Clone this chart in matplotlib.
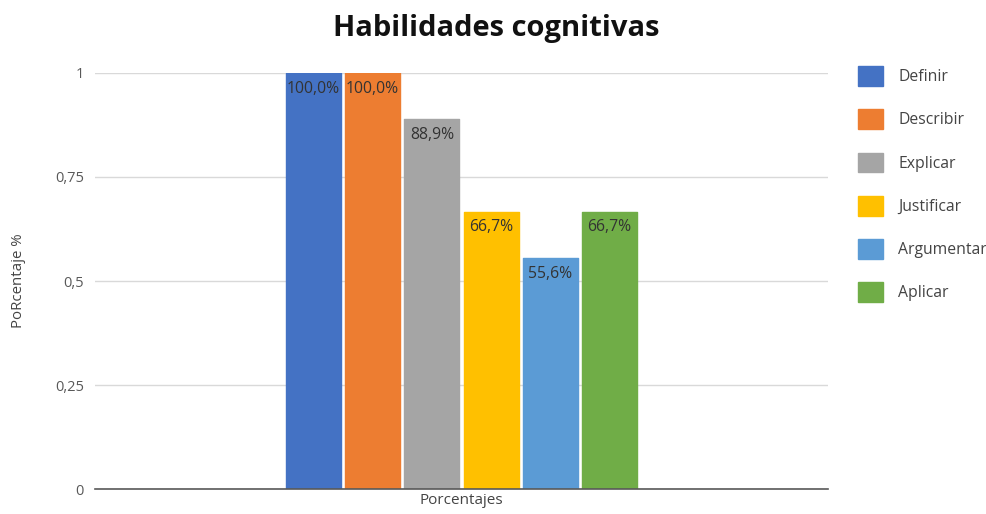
import matplotlib.pyplot as plt

categories = ["Definir", "Describir", "Explicar", "Justificar", "Argumentar", "Aplicar"]
values = [1.0, 1.0, 0.889, 0.667, 0.556, 0.667]
labels = ["100,0%", "100,0%", "88,9%", "66,7%", "55,6%", "66,7%"]
colors = ["#4472C4", "#ED7D31", "#A5A5A5", "#FFC000", "#5B9BD5", "#70AD47"]
yticks = [0, 0.25, 0.5, 0.75, 1]
ytick_labels = ["0", "0,25", "0,5", "0,75", "1"]

plt.rcParams["font.family"] = ["Open Sans", "DejaVu Sans"]

fig = plt.figure(figsize=(9.86, 5.14), dpi=100)
ax = fig.add_axes([0.0963, 0.0486, 0.7435, 0.8094])

x = list(range(len(categories)))
bars = ax.bar(x, values, width=0.93, color=colors, edgecolor=colors,
              linewidth=1, joinstyle="round", zorder=3)

for b, lab in zip(bars, labels):
    ax.text(b.get_x() + b.get_width() / 2, b.get_height() - 0.038, lab,
            ha="center", va="center", fontsize=11.3, color="#333333", zorder=4)

ax.set_xlim(-3.69, 8.69)
ax.set_ylim(0, 1)
ax.set_yticks(yticks)
ax.set_yticklabels(ytick_labels)
ax.set_xticks([])
ax.tick_params(axis="y", length=0, pad=8, labelsize=10.5, labelcolor="#595959")
ax.grid(axis="y", color="#d9d9d9", linewidth=1, zorder=0)
for s in ["left", "right", "top"]:
    ax.spines[s].set_visible(False)
ax.spines["bottom"].set_color("#595959")
ax.spines["bottom"].set_linewidth(1.2)
ax.spines["bottom"].set_zorder(5)

ax.set_xlabel("Porcentajes", fontsize=11, color="#444444", labelpad=3)
ax.set_ylabel("PoRcentaje %", fontsize=10.8, color="#444444", labelpad=21)

fig.text(0.503, 0.945, "Habilidades cognitivas", ha="center", va="center",
         fontsize=21, fontweight="bold", color="#111111")

leg = ax.legend(bars, categories, loc="upper left",
                bbox_to_anchor=(852 / 986, 1 - 60 / 514),
                bbox_transform=fig.transFigure, frameon=False,
                fontsize=11.3, handlelength=1.55, handleheight=1.55,
                labelspacing=1.5, handletextpad=1.0, borderaxespad=0)
for t in leg.get_texts():
    t.set_color("#444444")

fig.savefig("out.png", dpi=100)
